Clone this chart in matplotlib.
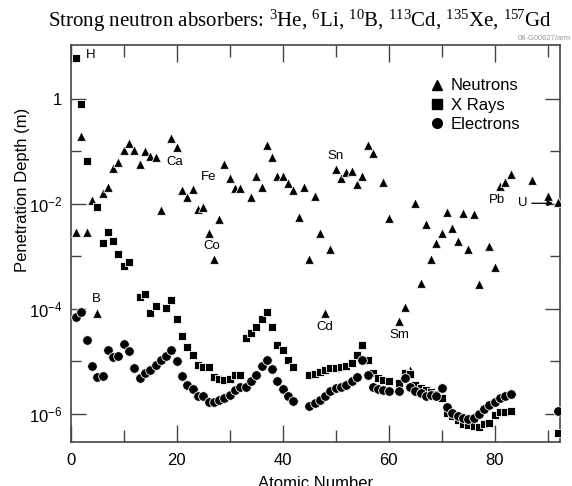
import matplotlib

matplotlib.use("Agg")
import matplotlib.pyplot as plt
import numpy as np
from matplotlib.lines import Line2D
from matplotlib.ticker import FixedFormatter, FixedLocator, NullFormatter

plt.rcParams["font.family"] = ["Liberation Sans", "DejaVu Sans"]
plt.rcParams["mathtext.default"] = "regular"

# Penetration depth, stored as log10(depth in m)
neutron_z = [1, 2, 3, 4, 5, 6, 7, 8, 9, 10, 11, 12, 13, 14, 15, 16, 17, 19, 20,
             21, 22, 23, 24, 25, 26, 27, 28, 29, 30, 31, 32, 34, 35, 36, 37, 38,
             39, 40, 41, 42, 43, 44, 45, 46, 47, 48, 49, 50, 51, 52, 53, 54, 55,
             56, 57, 59, 60, 62, 63, 64, 65, 66, 67, 68, 69, 70, 71, 72, 73, 74,
             75, 76, 77, 79, 80, 81, 82, 83, 87, 90, 92]
neutron_log = [-2.54, -0.70, -2.54, -1.92, -4.07, -1.80, -1.68, -1.32, -1.21,
               -0.98, -0.84, -0.97, -1.24, -1.00, -1.08, -1.11, -2.11, -0.75,
               -0.91, -1.73, -1.87, -1.72, -2.10, -2.05, -2.56, -3.05, -2.29,
               -1.23, -1.51, -1.70, -1.70, -1.87, -1.47, -1.68, -0.88, -1.10,
               -1.46, -1.46, -1.61, -1.73, -2.24, -1.67, -3.05, -1.84, -2.56,
               -4.07, -2.86, -1.34, -1.51, -1.40, -1.37, -1.62, -1.46, -0.88,
               -1.02, -1.59, -2.27, -4.24, -3.97, -5.16, -1.99, -3.50, -2.38,
               -3.05, -2.74, -2.56, -2.15, -2.46, -2.70, -2.18, -2.86, -2.19,
               -3.53, -2.80, -3.21, -1.66, -1.59, -1.43, -1.54, -1.84, -1.97]

xray_z = [1, 2, 3, 5, 6, 7, 8, 9, 10, 11, 13, 14, 15, 16, 18, 19, 20, 21, 22,
          23, 24, 25, 26, 27, 28, 29, 30, 31, 32, 33, 34, 35, 36, 37, 38, 39,
          40, 41, 42, 45, 46, 47, 48, 49, 50, 51, 52, 53, 54, 55, 56, 57, 58,
          59, 60, 62, 63, 64, 65, 66, 67, 68, 69, 70, 71, 72, 73, 74, 75, 76,
          77, 78, 79, 80, 81, 82, 83, 92]
xray_log = [0.79, -0.10, -1.18, -2.06, -2.75, -2.53, -2.70, -2.96, -3.18,
            -3.10, -3.77, -3.72, -4.07, -3.94, -3.99, -3.84, -4.20, -4.51,
            -4.73, -4.88, -5.07, -5.11, -5.11, -5.29, -5.34, -5.35, -5.34,
            -5.26, -5.26, -4.56, -4.46, -4.34, -4.20, -4.05, -4.34, -4.69,
            -4.79, -4.97, -5.10, -5.26, -5.24, -5.21, -5.16, -5.13, -5.13,
            -5.11, -5.09, -5.03, -4.88, -4.69, -4.97, -5.22, -5.32, -5.35,
            -5.38, -5.42, -5.22, -5.24, -5.45, -5.51, -5.54, -5.58, -5.62,
            -5.70, -5.98, -6.05, -6.11, -6.19, -6.22, -6.24, -6.25, -6.19,
            -6.18, -6.02, -5.97, -5.96, -5.94, -6.37]

electron_z = [1, 2, 3, 4, 5, 6, 7, 8, 9, 10, 11, 12, 13, 14, 15, 16, 17, 18,
              19, 20, 21, 22, 23, 24, 25, 26, 27, 28, 29, 30, 31, 32, 33, 34,
              35, 36, 37, 38, 39, 40, 41, 42, 45, 46, 47, 48, 49, 50, 51, 52,
              53, 54, 55, 56, 57, 58, 59, 60, 62, 63, 64, 65, 66, 67, 68, 69,
              70, 71, 72, 73, 74, 75, 76, 77, 78, 79, 80, 81, 82, 83, 92]
electron_log = [-4.15, -4.05, -4.60, -5.08, -5.29, -5.28, -4.79, -4.91, -4.89,
                -4.67, -4.80, -5.13, -5.31, -5.22, -5.16, -5.07, -4.97, -4.90,
                -4.79, -5.00, -5.28, -5.45, -5.53, -5.66, -5.67, -5.77, -5.77,
                -5.74, -5.70, -5.64, -5.54, -5.48, -5.48, -5.38, -5.26, -5.09,
                -4.98, -5.15, -5.38, -5.52, -5.66, -5.75, -5.85, -5.80, -5.73,
                -5.66, -5.56, -5.51, -5.48, -5.45, -5.38, -5.30, -4.97, -5.26,
                -5.48, -5.52, -5.54, -5.56, -5.56, -5.32, -5.48, -5.56, -5.61,
                -5.66, -5.64, -5.66, -5.51, -5.87, -5.98, -6.05, -6.08, -6.10,
                -6.08, -6.01, -5.90, -5.84, -5.77, -5.70, -5.66, -5.62, -5.94]

fig = plt.figure(figsize=(5.72, 4.86), dpi=100)
ax = fig.add_axes([0.1236, 0.0905, 0.8554, 0.8169])

marker_kw = dict(color="black", edgecolors="white", linewidths=0.6, zorder=3)
ax.scatter(neutron_z, np.power(10.0, neutron_log), marker="^", s=48, **marker_kw)
ax.scatter(xray_z, np.power(10.0, xray_log), marker="s", s=40, **marker_kw)
ax.scatter(electron_z, np.power(10.0, electron_log), marker="o", s=48, **marker_kw)

ax.set_yscale("log")
ax.set_xlim(0, 92.3)
ax.set_ylim(2.9e-7, 10.7)

ax.xaxis.set_major_locator(FixedLocator([0, 20, 40, 60, 80]))
ax.xaxis.set_minor_locator(FixedLocator([10, 30, 50, 70, 90]))
ax.yaxis.set_major_locator(FixedLocator([1e-6, 1e-4, 1e-2, 1]))
ax.yaxis.set_major_formatter(
    FixedFormatter(["10$^{-6}$", "10$^{-4}$", "10$^{-2}$", "1"]))
ax.yaxis.set_minor_locator(FixedLocator([1e-5, 1e-3, 1e-1]))
ax.yaxis.set_minor_formatter(NullFormatter())

edge = "#444444"
for sp in ax.spines.values():
    sp.set_color(edge)
    sp.set_linewidth(1.2)
ax.tick_params(which="both", direction="in", top=True, right=True,
               color=edge, width=1.0, labelsize=12)
ax.tick_params(axis="x", which="major", length=12, pad=8)
ax.tick_params(axis="x", which="minor", length=8.6)
ax.tick_params(axis="y", which="major", length=11, pad=6)
ax.tick_params(axis="y", which="minor", length=7.5)

# the x label sits partly below the bottom edge, as in the source image
fig.text(0.551, 1 - 476 / 486, "Atomic Number", ha="center", va="top", fontsize=12)
fig.text(0.040, 1 - 190 / 486, "Penetration Depth (m)", rotation=90,
         ha="center", va="center", fontsize=12)

# element labels
lab_kw = dict(fontsize=9.5, ha="center", va="center")
ax.text(3.8, 6.9, "H", **lab_kw)
ax.text(19.7, 0.064, "Ca", **lab_kw)
ax.text(26.0, 0.033, "Fe", **lab_kw)
ax.text(26.6, 0.0016, "Co", **lab_kw)
ax.text(4.8, 1.55e-4, "B", **lab_kw)
ax.text(49.9, 0.082, "Sn", **lab_kw)
ax.text(48.0, 4.6e-5, "Cd", **lab_kw)
ax.text(62.0, 3.2e-5, "Sm", **lab_kw)
ax.text(80.5, 0.0119, "Pb", **lab_kw)
ax.annotate("U", xy=(91.0, 0.0103), xytext=(85.3, 0.0103), fontsize=9.5,
            ha="center", va="center",
            arrowprops=dict(arrowstyle="-|>", color="black", lw=0.9,
                            shrinkA=1, shrinkB=0, mutation_scale=8))

handles = [Line2D([], [], ls="", marker=m, color="black", markersize=ms)
           for m, ms in (("^", 7), ("s", 6.5), ("o", 7))]
ax.legend(handles, ["Neutrons", "X Rays", "Electrons"], loc="upper left",
          bbox_to_anchor=(0.719, 0.937), frameon=False, fontsize=12,
          handlelength=0.8, handletextpad=0.4, labelspacing=0.25, borderpad=0)

title = ("Strong neutron absorbers: $^{3}$He, $^{6}$Li, $^{10}$B, "
         "$^{113}$Cd, $^{135}$Xe, $^{157}$Gd")
fig.text(0.5245, 1 - 21 / 486, title, ha="center", va="center", fontsize=15,
         family=["Liberation Serif"])
fig.text(0.997, 1 - 38 / 486, "08-G00827/arm", ha="right", va="center",
         fontsize=5.5, color="#999999")

fig.savefig("out.png", dpi=100)
